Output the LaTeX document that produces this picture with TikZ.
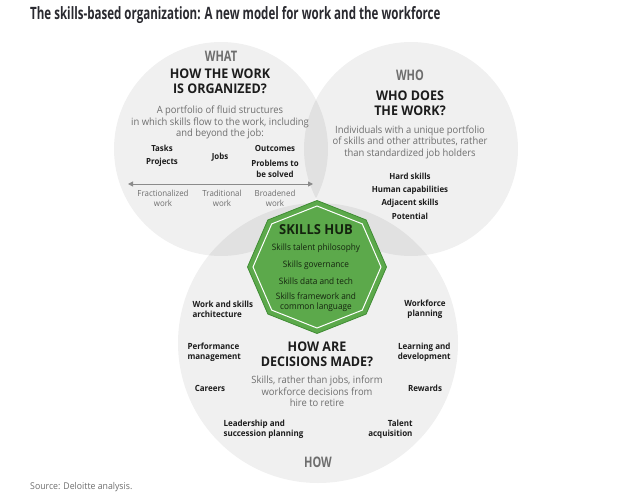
\documentclass[tikz,border=0pt]{standalone}
\usepackage{fontspec}
\setmainfont{Open Sans}[FakeStretch=0.94]
\newfontfamily\condf{Open Sans}[FakeStretch=0.68]
\newfontfamily\labf{Open Sans}[FakeStretch=0.76]
\usetikzlibrary{arrows.meta}
\definecolor{txtgray}{HTML}{6E6E6E}
\definecolor{txtdark}{HTML}{1C1C1C}
\definecolor{titlec}{HTML}{2A2A30}
\definecolor{hubgreen}{HTML}{5CA94B}
\definecolor{hubedge}{HTML}{3F8C33}
\definecolor{hubtext}{HTML}{14240E}
\begin{document}
\begin{tikzpicture}[x=1pt,y=-1pt,
  circ/.style={fill=black, fill opacity=0.058},
  toplabel/.style={font=\labf\bfseries\fontsize{14.5}{15}\selectfont, text=txtgray},
  heading/.style={font=\bfseries\fontsize{13.3}{15}\selectfont, text=txtdark, align=center},
  desc/.style={font=\fontsize{10}{11.5}\selectfont, text=txtgray, align=center},
  item/.style={font=\bfseries\fontsize{8.4}{10.5}\selectfont, text=txtdark, align=center},
  ritem/.style={font=\bfseries\fontsize{8.4}{13.3}\selectfont, text=txtdark, align=center},
  scalelbl/.style={font=\fontsize{8.4}{9.5}\selectfont, text=txtgray, align=center},
  hubitem/.style={font=\fontsize{8.8}{9.7}\selectfont, text=hubtext, align=center},
  howitem/.style={font=\bfseries\fontsize{8.5}{9.8}\selectfont, text=txtdark},
  axis/.style={draw=txtgray!80, line width=1pt, {Triangle[length=5pt,width=5pt]}-{Triangle[length=5pt,width=5pt]}}
]
\useasboundingbox (0,0) rectangle (640,503);
\fill[white] (0,0) rectangle (640,503);

% circles
\fill[circ] (221,149) circle[radius=107pt];
\fill[circ] (411,149) circle[radius=107pt];
\fill[circ] (318,343) circle[radius=140pt];

% title and source
\node[anchor=west, font=\condf\bfseries\fontsize{17}{19}\selectfont, text=titlec, inner sep=0pt] (title) at (30,15) {The skills-based organization: A new model for work and the workforce};
\node[anchor=west, font=\fontsize{9.3}{11}\selectfont, text=txtgray, inner sep=0pt] (source) at (30,487) {Source: Deloitte analysis.};

% WHAT circle
\node[toplabel] (what) at (221,56) {WHAT};
\node[heading] (whath) at (220,81.5) {HOW THE WORK\\IS ORGANIZED?};
\node[desc] (whatd) at (220,122.5) {A portfolio of fluid structures\\in which skills flow to the work, including\\and beyond the job:};
\node[item, font=\bfseries\fontsize{8.4}{13.5}\selectfont] (tasks) at (162,156) {Tasks\\Projects};
\node[item] (jobs) at (220,157) {Jobs};
\node[item] (outcomes) at (275,148) {Outcomes};
\node[item] (problems) at (275,169) {Problems to\\be solved};
\coordinate (arrL) at (128,184);
\coordinate (arrR) at (313,184);
\draw[axis] (arrL) -- (arrR);
\node[scalelbl] (fract) at (163,198.5) {Fractionalized\\work};
\node[scalelbl] (trad) at (222,198.5) {Traditional\\work};
\node[scalelbl] (broad) at (275,198.5) {Broadened\\work};

% WHO circle
\node[toplabel] (who) at (410,75) {WHO};
\node[heading] (whoh) at (410,103.5) {WHO DOES\\THE WORK?};
\node[desc] (whod) at (410,142) {Individuals with a unique portfolio\\of skills and other attributes, rather\\than standardized job holders};
\node[ritem] (whoitems) at (410,196) {Hard skills\\Human capabilities\\Adjacent skills\\Potential};

% HOW circle
\node[heading] (howh) at (317,354.5) {HOW ARE\\DECISIONS MADE?};
\node[desc] (howd) at (317,391.5) {Skills, rather than jobs, inform\\workforce decisions from\\hire to retire};
\node[toplabel] (how) at (318,462) {HOW};
\node[howitem, anchor=west, align=left] (wsa) at (189,309) {Work and skills\\architecture};
\node[howitem, anchor=west, align=left] (perf) at (184,352) {Performance\\management};
\node[howitem] (careers) at (210,388) {Careers};
\node[howitem, anchor=west, align=left] (lead) at (220,429) {Leadership and\\succession planning};
\node[howitem, align=center] (wfp) at (425,309) {Workforce\\planning};
\node[howitem, anchor=east, align=right] (ld) at (454,352) {Learning and\\development};
\node[howitem] (rewards) at (425,388) {Rewards};
\node[howitem, anchor=east, align=right] (talent) at (416,429) {Talent\\acquisition};

% Skills hub octagon
\begin{scope}[shift={(317,267)}]
\draw[fill=hubgreen, draw=hubedge, line width=0.8pt]
  (0:69.5 and 66.5) -- (45:69.5 and 66.5) -- (90:69.5 and 66.5) -- (135:69.5 and 66.5) --
  (180:69.5 and 66.5) -- (225:69.5 and 66.5) -- (270:69.5 and 66.5) -- (315:69.5 and 66.5) -- cycle;
\draw[white, line width=1pt]
  (0:64 and 61) -- (45:64 and 61) -- (90:64 and 61) -- (135:64 and 61) --
  (180:64 and 61) -- (225:64 and 61) -- (270:64 and 61) -- (315:64 and 61) -- cycle;
\end{scope}
\node[font=\bfseries\fontsize{13.8}{14}\selectfont, text=hubtext] (hub) at (316,230) {SKILLS HUB};
\node[hubitem] (h1) at (316,248) {Skills talent philosophy};
\node[hubitem] (h2) at (316,265) {Skills governance};
\node[hubitem] (h3) at (316,281) {Skills data and tech};
\node[hubitem] (h4) at (316,302) {Skills framework and\\common language};
\end{tikzpicture}
\end{document}
